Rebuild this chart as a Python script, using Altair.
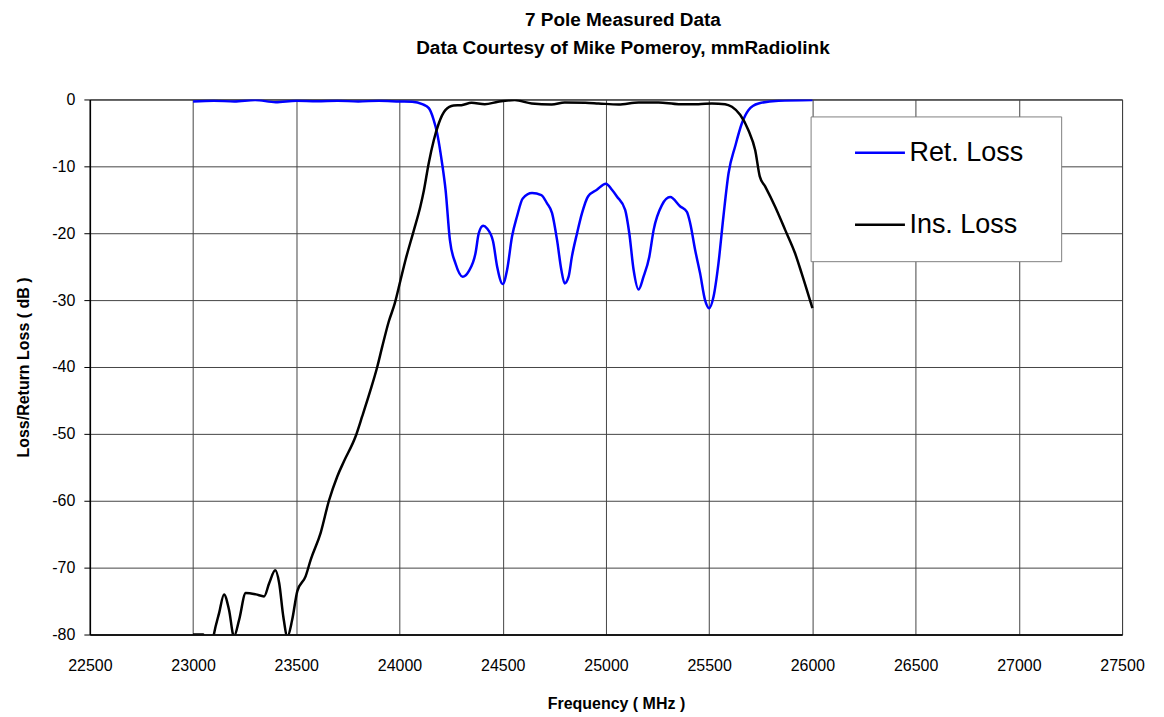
import altair as alt
import pandas as pd

# Return loss (blue) trace
ret_freq = [23000, 23100, 23200, 23300, 23400, 23500, 23600, 23700, 23800, 23900, 24000,
            24061, 24110, 24142, 24165, 24182, 24206, 24223, 24244, 24271, 24306, 24335,
            24368, 24384, 24405, 24424, 24453, 24473, 24500, 24521, 24545, 24569, 24597,
            24642, 24687, 24714, 24739, 24763, 24784, 24800, 24819, 24835, 24860, 24884,
            24913, 24956, 25000, 25029, 25053, 25093, 25113, 25134, 25158, 25182, 25210,
            25231, 25271, 25311, 25360, 25392, 25408, 25432, 25456, 25480, 25500, 25521,
            25545, 25569, 25594, 25626, 25658, 25690, 25739, 25836, 26000]
ret_db = [-0.3, -0.2, -0.3, -0.1, -0.4, -0.2, -0.25, -0.2, -0.3, -0.2, -0.3,
          -0.35, -0.7, -1.3, -3, -5, -9.5, -13.5, -21, -24.5, -26.5, -25.7,
          -23, -20, -18.9, -19.3, -21.2, -25, -27.6, -25.5, -20.5, -17.5, -14.8,
          -14, -14.3, -15.5, -17, -21, -25.5, -27.5, -26.5, -23.5, -20, -17,
          -14.5, -13.5, -12.6, -13.5, -14.5, -16.5, -20, -25.5, -28.4, -26.5, -23.5,
          -19.5, -15.8, -14.6, -16, -16.8, -18.5, -22.5, -26, -30, -31.2, -29.5,
          -24.5, -17.5, -11, -7, -3.6, -1.6, -0.6, -0.2, -0.1]

# Insertion loss (black) trace
ins_freq = [23000, 23050, 23060, 23095, 23102, 23126, 23150, 23174, 23198, 23223, 23255,
            23304, 23344, 23369, 23398, 23417, 23437, 23457, 23480, 23505, 23545, 23570,
            23618, 23658, 23698, 23731, 23787, 23819, 23860, 23892, 23916, 23948, 23977,
            24005, 24029, 24069, 24101, 24118, 24141, 24166, 24190, 24222, 24262, 24300,
            24349, 24413, 24477, 24558, 24640, 24737, 24800, 24900, 24964, 25061, 25158,
            25255, 25352, 25448, 25513, 25577, 25610, 25650, 25690, 25723, 25745, 25771,
            25819, 25868, 25916, 25948, 26000]
ins_db = [-80, -80, -81, -81, -79.8, -76.8, -74, -76.3, -80.3, -77.8, -73.8,
          -74, -74.3, -72.3, -70.4, -72.3, -77.3, -80.3, -77.8, -73.5, -71.3, -68.8,
          -64.8, -60, -56.4, -54.1, -50.4, -47.4, -43.4, -40, -37, -33.2, -30.5,
          -27, -24, -19.6, -16, -13.6, -9.6, -6.1, -3.6, -1.6, -0.9, -0.85,
          -0.5, -0.7, -0.35, -0.1, -0.6, -0.75, -0.45, -0.5, -0.6, -0.75, -0.45,
          -0.45, -0.7, -0.7, -0.6, -0.7, -1.1, -2.3, -4.6, -7.6, -11.5, -13,
          -16, -19.5, -23, -26, -31.2]

series_names = ["Ret. Loss", "Ins. Loss"]
series_colors = ["#0000ff", "#000000"]
x_ticks = list(range(22500, 27501, 500))
y_ticks = list(range(-80, 1, 10))

df = pd.concat([
    pd.DataFrame({"freq": ret_freq, "db": ret_db, "series": series_names[0], "order": range(len(ret_freq))}),
    pd.DataFrame({"freq": ins_freq, "db": ins_db, "series": series_names[1], "order": range(len(ins_freq))}),
])

chart = alt.Chart(df).mark_line(clip=True, strokeWidth=2.5, interpolate="monotone").encode(
    x=alt.X("freq:Q",
            scale=alt.Scale(domain=[22500, 27500], nice=False, zero=False),
            axis=alt.Axis(values=x_ticks, labelExpr="'' + datum.value", title="Frequency ( MHz )",
                          ticks=False, labelFlush=False, labelPadding=23, titlePadding=22, titleX=527)),
    y=alt.Y("db:Q",
            scale=alt.Scale(domain=[-80, 0], nice=False),
            axis=alt.Axis(values=y_ticks, labelExpr="'' + datum.value", title="Loss/Return Loss ( dB )",
                          ticks=True, tickSize=6, labelFlush=False, labelPadding=9, titlePadding=20)),
    color=alt.Color("series:N",
                    scale=alt.Scale(domain=series_names, range=series_colors),
                    legend=alt.Legend(title=".", titleOrient="right", titleColor="white",
                                      titleFontSize=10, titlePadding=24,
                                      orient="none", legendX=722, legendY=17,
                                      symbolType="stroke", symbolSize=2500, symbolStrokeWidth=2.5,
                                      symbolOffset=32, labelOffset=3, labelFontSize=27,
                                      clipHeight=51, rowPadding=21, padding=11,
                                      strokeColor="#808080", fillColor="white")),
    order="order:Q",
).properties(
    width=1034,
    height=536,
    title=alt.TitleParams(["7 Pole Measured Data", "Data Courtesy of Mike Pomeroy, mmRadiolink"],
                          fontSize=19, fontWeight="bold", lineHeight=28, anchor="middle",
                          dx=17, offset=34, color="black"),
    autosize=alt.AutoSizeParams(type="none"),
    padding={"left": 82, "top": 91, "right": 34, "bottom": 80},
).configure(
    font="Liberation Sans",
).configure_view(
    stroke="black", strokeWidth=1,
).configure_axis(
    labelFontSize=16, labelColor="black", titleFontSize=16, titleFontWeight="bold",
    titleColor="black", gridColor="#444444", gridWidth=1, gridOpacity=1,
    domainColor="black", domainWidth=1.5, tickColor="black",
    labelFont="Liberation Sans", titleFont="Liberation Sans",
).configure_legend(
    labelFont="Liberation Sans", labelColor="black",
)

chart.save("out.html", embed_options={"renderer": "svg", "actions": False})
